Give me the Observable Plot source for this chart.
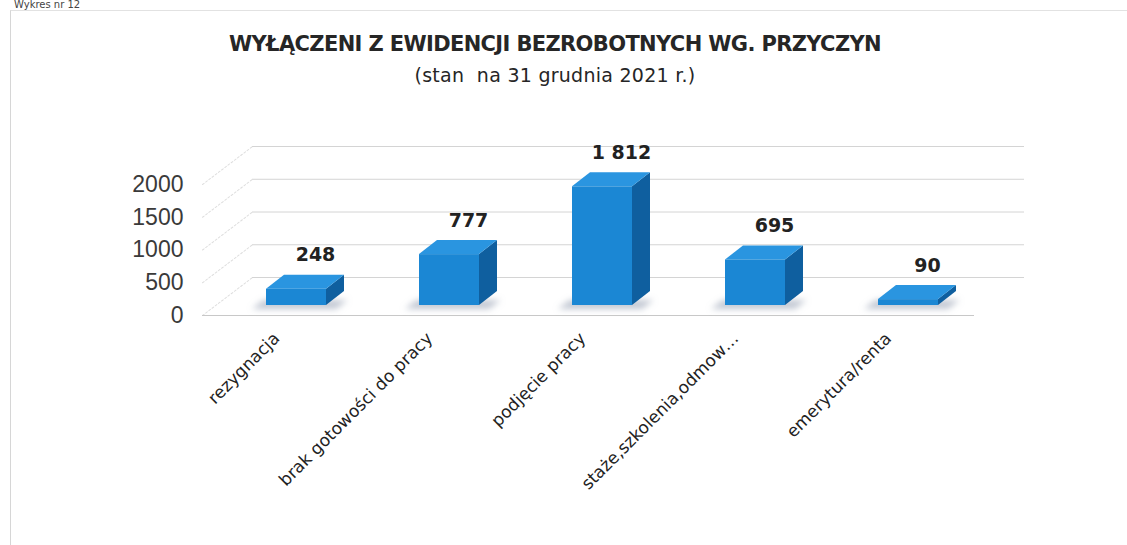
<!DOCTYPE html>
<html><head><meta charset="utf-8">
<script src="https://cdn.jsdelivr.net/npm/d3@7"></script>
<script src="https://cdn.jsdelivr.net/npm/@observablehq/plot@0.6"></script>
<style>
body{margin:0;background:#fff;}
#wrap{position:relative;width:1127px;height:545px;overflow:hidden;background:#fff;}
#frame{position:absolute;left:10px;top:10px;width:1200px;height:600px;border-left:1px solid #d6d6d6;border-top:1px solid #e2e2e2;}
#pre{position:absolute;left:14px;top:-1px;font:10px/11px "DejaVu Sans";color:#444;white-space:nowrap;}
.ttl{position:absolute;left:0;width:1110px;text-align:center;white-space:nowrap;color:#262626;}
#title{top:33px;font:bold 21px/22px "DejaVu Sans";}
#sub{top:66px;font:19px/19px "DejaVu Sans";}
#chart{position:absolute;left:0;top:0;}
</style></head>
<body><div id="wrap">
<div id="frame"></div>
<div id="pre">Wykres nr 12</div>
<div class="ttl" id="title"><span>WYŁĄCZENI Z EWIDENCJI BEZROBOTNYCH WG. PRZYCZYN</span></div>
<div class="ttl" id="sub"><span>(stan&nbsp; na 31 grudnia 2021 r.)</span></div>
<div id="chart"></div>
</div>
<script>
const categories = ["rezygnacja", "brak gotowości do pracy", "podjęcie pracy", "staże,szkolenia,odmow…", "emerytura/renta"];
const values = [248, 777, 1812, 695, 90];
const yTicks = [0, 500, 1000, 1500, 2000];

const data = categories.map((c, i) => ({category: c, value: values[i]}));
const fmt = d3.formatLocale({decimal: ",", thousands: " ", grouping: [3], currency: ["", " zł"]}).format(",d");

const kx = 18, ky = 14;      // bar depth (px)
const lift = -10;            // bars sit behind the front floor edge
const lineShape = {draw(context, l) { context.moveTo(0, 0); context.lineTo(0, -l); }};

const svg = Plot.plot({
  width: 1127, height: 545,
  marginTop: 184, marginBottom: 230, marginLeft: 202, marginRight: 153,
  style: {fontFamily: "Liberation Sans, Arial, sans-serif", background: "transparent"},
  x: {domain: categories, range: [218, 986], paddingInner: 0.61, paddingOuter: 0.305, axis: null},
  y: {domain: [0, 2000], axis: null},
  marks: [
    Plot.ruleY(yTicks, {dx: 50, dy: -38, stroke: "#d4d4d4", strokeWidth: 1}),
    Plot.vector(yTicks, {y: d => d, frameAnchor: "left", anchor: "start", length: 63, rotate: 52.8, shape: lineShape, stroke: "#dedede", strokeWidth: 1, strokeDasharray: "2,2"}),
    Plot.ruleY([0], {stroke: "#c8c8c8", strokeWidth: 1}),
    // order matters: shadow, side, top, front
    Plot.barY(data, {x: "category", y1: 0, y2: 0, insetTop: -9, insetLeft: -14, insetRight: -10, dy: lift + 4, fill: "#9aa4b6", fillOpacity: 0.6}),
    Plot.barY(data, {x: "category", y: "value", fill: "#0f5f9f", dy: lift}),
    Plot.barY(data, {x: "category", y1: "value", y2: "value", insetTop: -ky, fill: "#2a95e0", dy: lift}),
    Plot.barY(data, {x: "category", y: "value", fill: "#1b87d4", dy: lift}),
    Plot.text(data, {x: "category", y: "value", text: d => fmt(d.value), dx: 19, dy: -44, fontSize: 19, fontWeight: "bold", fontFamily: "DejaVu Sans", fill: "#222"}),
    Plot.text(categories, {x: d => d, frameAnchor: "bottom", text: d => d, rotate: -45, textAnchor: "end", dx: -16, dy: 24, fontSize: 17, fontFamily: "DejaVu Sans", fill: "#222"}),
    Plot.axisY(yTicks, {tickSize: 0, tickPadding: 19, fontSize: 23, color: "#3a3a3a", label: null, tickFormat: d => String(d)})
  ]
});
document.getElementById("chart").appendChild(svg);

// 3D bar faces: skew the top and side faces
const angX = -Math.atan(kx / ky) * 180 / Math.PI;
const angY = -Math.atan(ky / kx) * 180 / Math.PI;
const s = d3.select(svg);
const barGroups = s.selectAll('g[aria-label="bar"]').nodes();
const [gShadow, gSide, gTop, gFront] = barGroups;
d3.select(gTop).selectAll("rect").each(function() {
  const r = d3.select(this);
  const yb = +r.attr("y") + +r.attr("height");
  r.attr("transform", `translate(0,${yb}) skewX(${angX}) translate(0,${-yb})`);
});
d3.select(gShadow).selectAll("rect").each(function() {
  const r = d3.select(this);
  const yb = +r.attr("y") + +r.attr("height");
  r.attr("transform", `translate(0,${yb}) skewX(${angX}) translate(0,${-yb})`);
});
d3.select(gSide).selectAll("rect").each(function() {
  const r = d3.select(this);
  const xl = +r.attr("x") + +r.attr("width");
  r.attr("x", xl).attr("width", kx)
   .attr("transform", `translate(${xl},0) skewY(${angY}) translate(${-xl},0)`);
});
const defs = s.insert("defs", ":first-child");
defs.append("filter").attr("id", "blurShadow").attr("x", "-30%").attr("y", "-100%").attr("width", "160%").attr("height", "300%")
  .append("feGaussianBlur").attr("stdDeviation", 3);
d3.select(gShadow).attr("filter", "url(#blurShadow)");

// fit title widths to the reference
function fit(id, target) {
  const span = document.querySelector("#" + id + " span");
  const n = span.textContent.length;
  const w = span.getBoundingClientRect().width;
  span.style.letterSpacing = ((target - w) / n) + "px";
}
fit("title", 652);
fit("sub", 281);
</script>
</body></html>
